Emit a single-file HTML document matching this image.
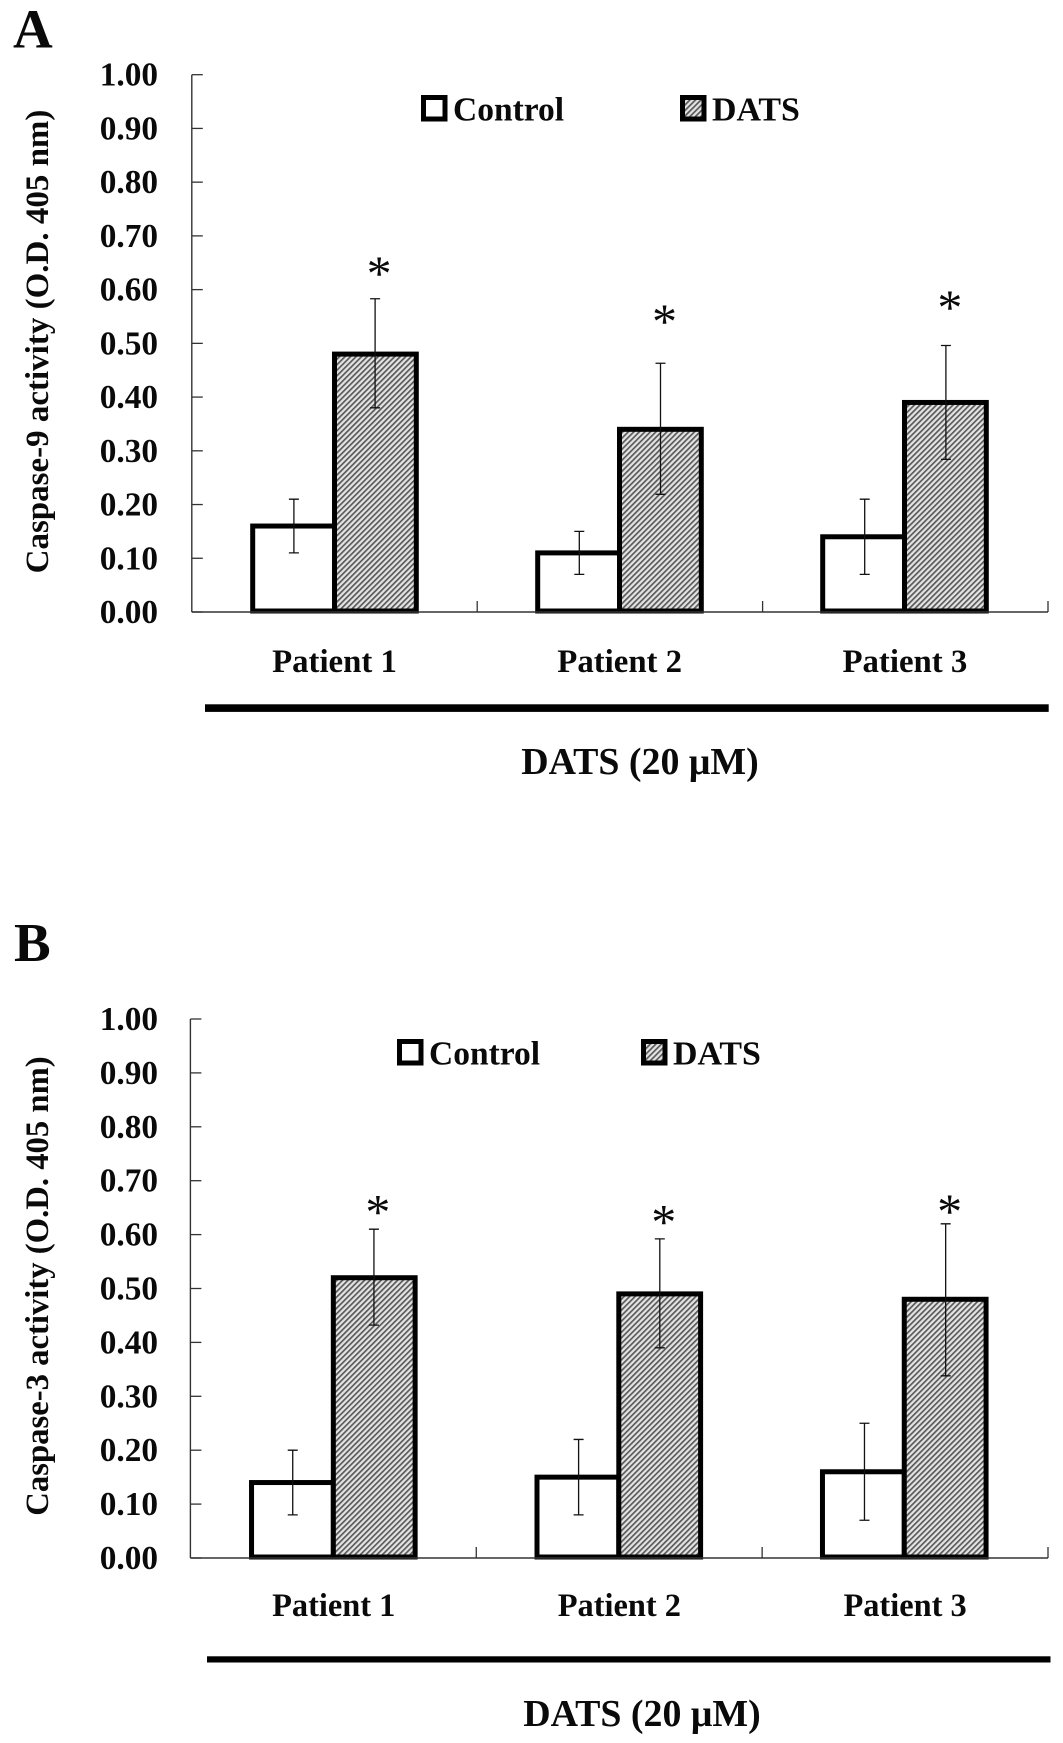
<!DOCTYPE html>
<html lang="en">
<head>
<meta charset="utf-8">
<title>Caspase activity after DATS treatment</title>
<style>
  html, body { margin: 0; padding: 0; background: #fff; }
  svg { display: block; }
  text { font-family: "Liberation Serif", serif; font-weight: bold; fill: #0a0a0a; }
</style>
</head>
<body>
<svg id="figure" xmlns="http://www.w3.org/2000/svg" width="1063" height="1743" viewBox="0 0 1063 1743">
  <defs>
    <pattern id="hatch" patternUnits="userSpaceOnUse" width="3.9" height="3.9" patternTransform="rotate(-45)">
      <rect width="3.9" height="3.9" fill="#e4e4e4"></rect>
      <rect width="3.9" height="1.7" fill="#5a5a5a"></rect>
    </pattern>
  </defs>
  <rect width="1063" height="1743" fill="#fff"></rect>
</svg>
<script>
// ---- chart data ----
const categories = ['Patient 1', 'Patient 2', 'Patient 3'];
const yTickLabels = ['0.00', '0.10', '0.20', '0.30', '0.40', '0.50', '0.60', '0.70', '0.80', '0.90', '1.00'];
const yTickValues = [0, 0.1, 0.2, 0.3, 0.4, 0.5, 0.6, 0.7, 0.8, 0.9, 1];

const controlA = [0.16, 0.11, 0.14];
const controlHighA = [0.21, 0.15, 0.21];
const controlLowA = [0.11, 0.07, 0.07];
const datsA = [0.48, 0.34, 0.39];
const datsHighA = [0.583, 0.463, 0.496];
const datsLowA = [0.38, 0.219, 0.284];
const starLevelA = [0.64, 0.551, 0.577];

const controlB = [0.14, 0.15, 0.16];
const controlHighB = [0.20, 0.22, 0.25];
const controlLowB = [0.08, 0.08, 0.07];
const datsB = [0.52, 0.49, 0.48];
const datsHighB = [0.61, 0.592, 0.62];
const datsLowB = [0.432, 0.39, 0.338];
const starLevelB = [0.652, 0.634, 0.653];

const SVG_NS = 'http://www.w3.org/2000/svg';
const root = document.getElementById('figure');

function make(tag, attrs, txt) {
  const el = document.createElementNS(SVG_NS, tag);
  for (const k in attrs) el.setAttribute(k, attrs[k]);
  if (txt !== undefined) el.textContent = txt;
  root.appendChild(el);
  return el;
}

function drawPanel(p) {
  const xScale = function (i) { return p.x0 + (p.x1 - p.x0) * (i + 0.5) / categories.length; };
  const yScale = function (v) { return p.y0 - (p.y0 - p.y1) * v; };
  const barW = 81.8;
  const errOffset = 40.6;

  // panel letter
  const letter = make('text', { x: p.letterX, y: p.letterY, 'font-size': 55 }, p.letter);
  
  

  // y axis title
  const yTitle = make('text', {
    transform: 'translate(48 ' + p.titleY + ') rotate(-90)',
    'text-anchor': 'middle',
    'font-size': p.titleSize
  }, p.title);
  
  

  // y tick labels
  yTickLabels.forEach(function (label, i) {
    const t = make('text', {
      x: p.tickLabelX,
      y: yScale(yTickValues[i]) + 11,
      'text-anchor': 'end',
      'font-size': 33.3
    }, label);
    
    
  });

  // bars
  categories.forEach(function (cat, i) {
    const cx = xScale(i) - i * 0.4;
    const c = make('rect', {
      x: cx - barW,
      y: yScale(p.control[i]),
      width: barW,
      height: p.y0 - 1 - yScale(p.control[i]),
      fill: '#fff',
      stroke: '#000',
      'stroke-width': 5
    });
    
    

    const d = make('rect', {
      x: cx,
      y: yScale(p.dats[i]),
      width: barW,
      height: p.y0 - 1 - yScale(p.dats[i]),
      fill: 'url(#hatch)',
      stroke: '#000',
      'stroke-width': 5
    });
    
    
  });

  // error bars
  categories.forEach(function (cat, i) {
    const cx = xScale(i);
    const series = [
      { x: cx - errOffset, hi: p.controlHigh[i], lo: p.controlLow[i] },
      { x: cx + errOffset, hi: p.datsHigh[i], lo: p.datsLow[i] }
    ];
    series.forEach(function (s) {
      const e = make('path', {
        d: 'M' + (s.x - 5) + ' ' + yScale(s.hi) + 'H' + (s.x + 5) +
           'M' + s.x + ' ' + yScale(s.hi) + 'V' + yScale(s.lo) +
           'M' + (s.x - 5) + ' ' + yScale(s.lo) + 'H' + (s.x + 5),
        fill: 'none',
        stroke: '#111',
        'stroke-width': 1.3
      });
      
      
    });

    const star = make('text', {
      x: cx + errOffset + 4,
      y: yScale(p.star[i]) + 22,
      'text-anchor': 'middle',
      'font-size': 50,
      style: 'font-weight:normal'
    }, '*');
    
    
  });

  // axes
  const yAxis = make('path', {
    d: 'M' + p.x0 + ' ' + p.y1 + 'V' + p.y0,
    fill: 'none', stroke: '#333', 'stroke-width': 1.4
  });
  
  

  const xAxis = make('path', {
    d: 'M' + p.x0 + ' ' + p.y0 + 'H' + p.x1,
    fill: 'none', stroke: '#333', 'stroke-width': 1.4
  });
  
  

  yTickValues.forEach(function (v) {
    const tick = make('path', {
      d: 'M' + p.x0 + ' ' + yScale(v) + 'h11',
      fill: 'none', stroke: '#333', 'stroke-width': 1.3
    });
    
    
  });

  categories.forEach(function (cat, i) {
    const edge = p.x0 + (p.x1 - p.x0) * (i + 1) / categories.length;
    const tick = make('path', {
      d: 'M' + edge + ' ' + p.y0 + 'v-11',
      fill: 'none', stroke: '#333', 'stroke-width': 1.3
    });
    
    

    const label = make('text', {
      x: xScale(i) + p.catShift - i * 0.2,
      y: p.catY,
      'text-anchor': 'middle',
      'font-size': p.catSize
    }, cat);
    
    
  });

  // treatment bar and label
  const tBar = make('rect', {
    x: p.lineX0, y: p.lineY, width: p.lineX1 - p.lineX0, height: p.lineH, fill: '#000'
  });
  
  

  const tLabel = make('text', {
    x: p.treatX, y: p.treatY, 'text-anchor': 'middle', 'font-size': 37.9
  }, 'DATS (20 \u03BCM)');
  
  

  // legend
  const sw1 = make('rect', {
    x: p.legendX1 + 2.5, y: p.legendY + 2.5, width: 21.5, height: 21.5,
    fill: '#fff', stroke: '#000', 'stroke-width': 5
  });
  
  

  const lt1 = make('text', {
    x: p.legendX1 + 32, y: p.legendY + 25.5, 'font-size': 33.5
  }, 'Control');
  
  

  const sw2 = make('rect', {
    x: p.legendX2 + 2.5, y: p.legendY + 2.5, width: 21.5, height: 21.5,
    fill: 'url(#hatch)', stroke: '#000', 'stroke-width': 5
  });
  
  

  const lt2 = make('text', {
    x: p.legendX2 + 32, y: p.legendY + 25.5, 'font-size': 33.9
  }, 'DATS');
  
  
}

drawPanel({
  letter: 'A', letterX: 13, letterY: 47.3,
  title: 'Caspase-9 activity (O.D. 405 nm)', titleY: 341.5, titleSize: 33,
  x0: 191.8, x1: 1048, y0: 612, y1: 74.7,
  tickLabelX: 158, catY: 672, catSize: 32.8, catShift: 0,
  lineX0: 205, lineX1: 1048.7, lineY: 704.3, lineH: 7.6,
  treatX: 640, treatY: 774,
  legendX1: 421, legendX2: 680, legendY: 95,
  control: controlA, controlHigh: controlHighA, controlLow: controlLowA,
  dats: datsA, datsHigh: datsHighA, datsLow: datsLowA, star: starLevelA
});

drawPanel({
  letter: 'B', letterX: 14, letterY: 961,
  title: 'Caspase-3 activity (O.D. 405 nm)', titleY: 1286, titleSize: 32.7,
  x0: 190.4, x1: 1048, y0: 1558, y1: 1019,
  tickLabelX: 158, catY: 1616, catSize: 32.4, catShift: 0.4,
  lineX0: 207, lineX1: 1050.5, lineY: 1656.3, lineH: 6.2,
  treatX: 642, treatY: 1726,
  legendX1: 397, legendX2: 641, legendY: 1039,
  control: controlB, controlHigh: controlHighB, controlLow: controlLowB,
  dats: datsB, datsHigh: datsHighB, datsLow: datsLowB, star: starLevelB
});
</script>
</body>
</html>
